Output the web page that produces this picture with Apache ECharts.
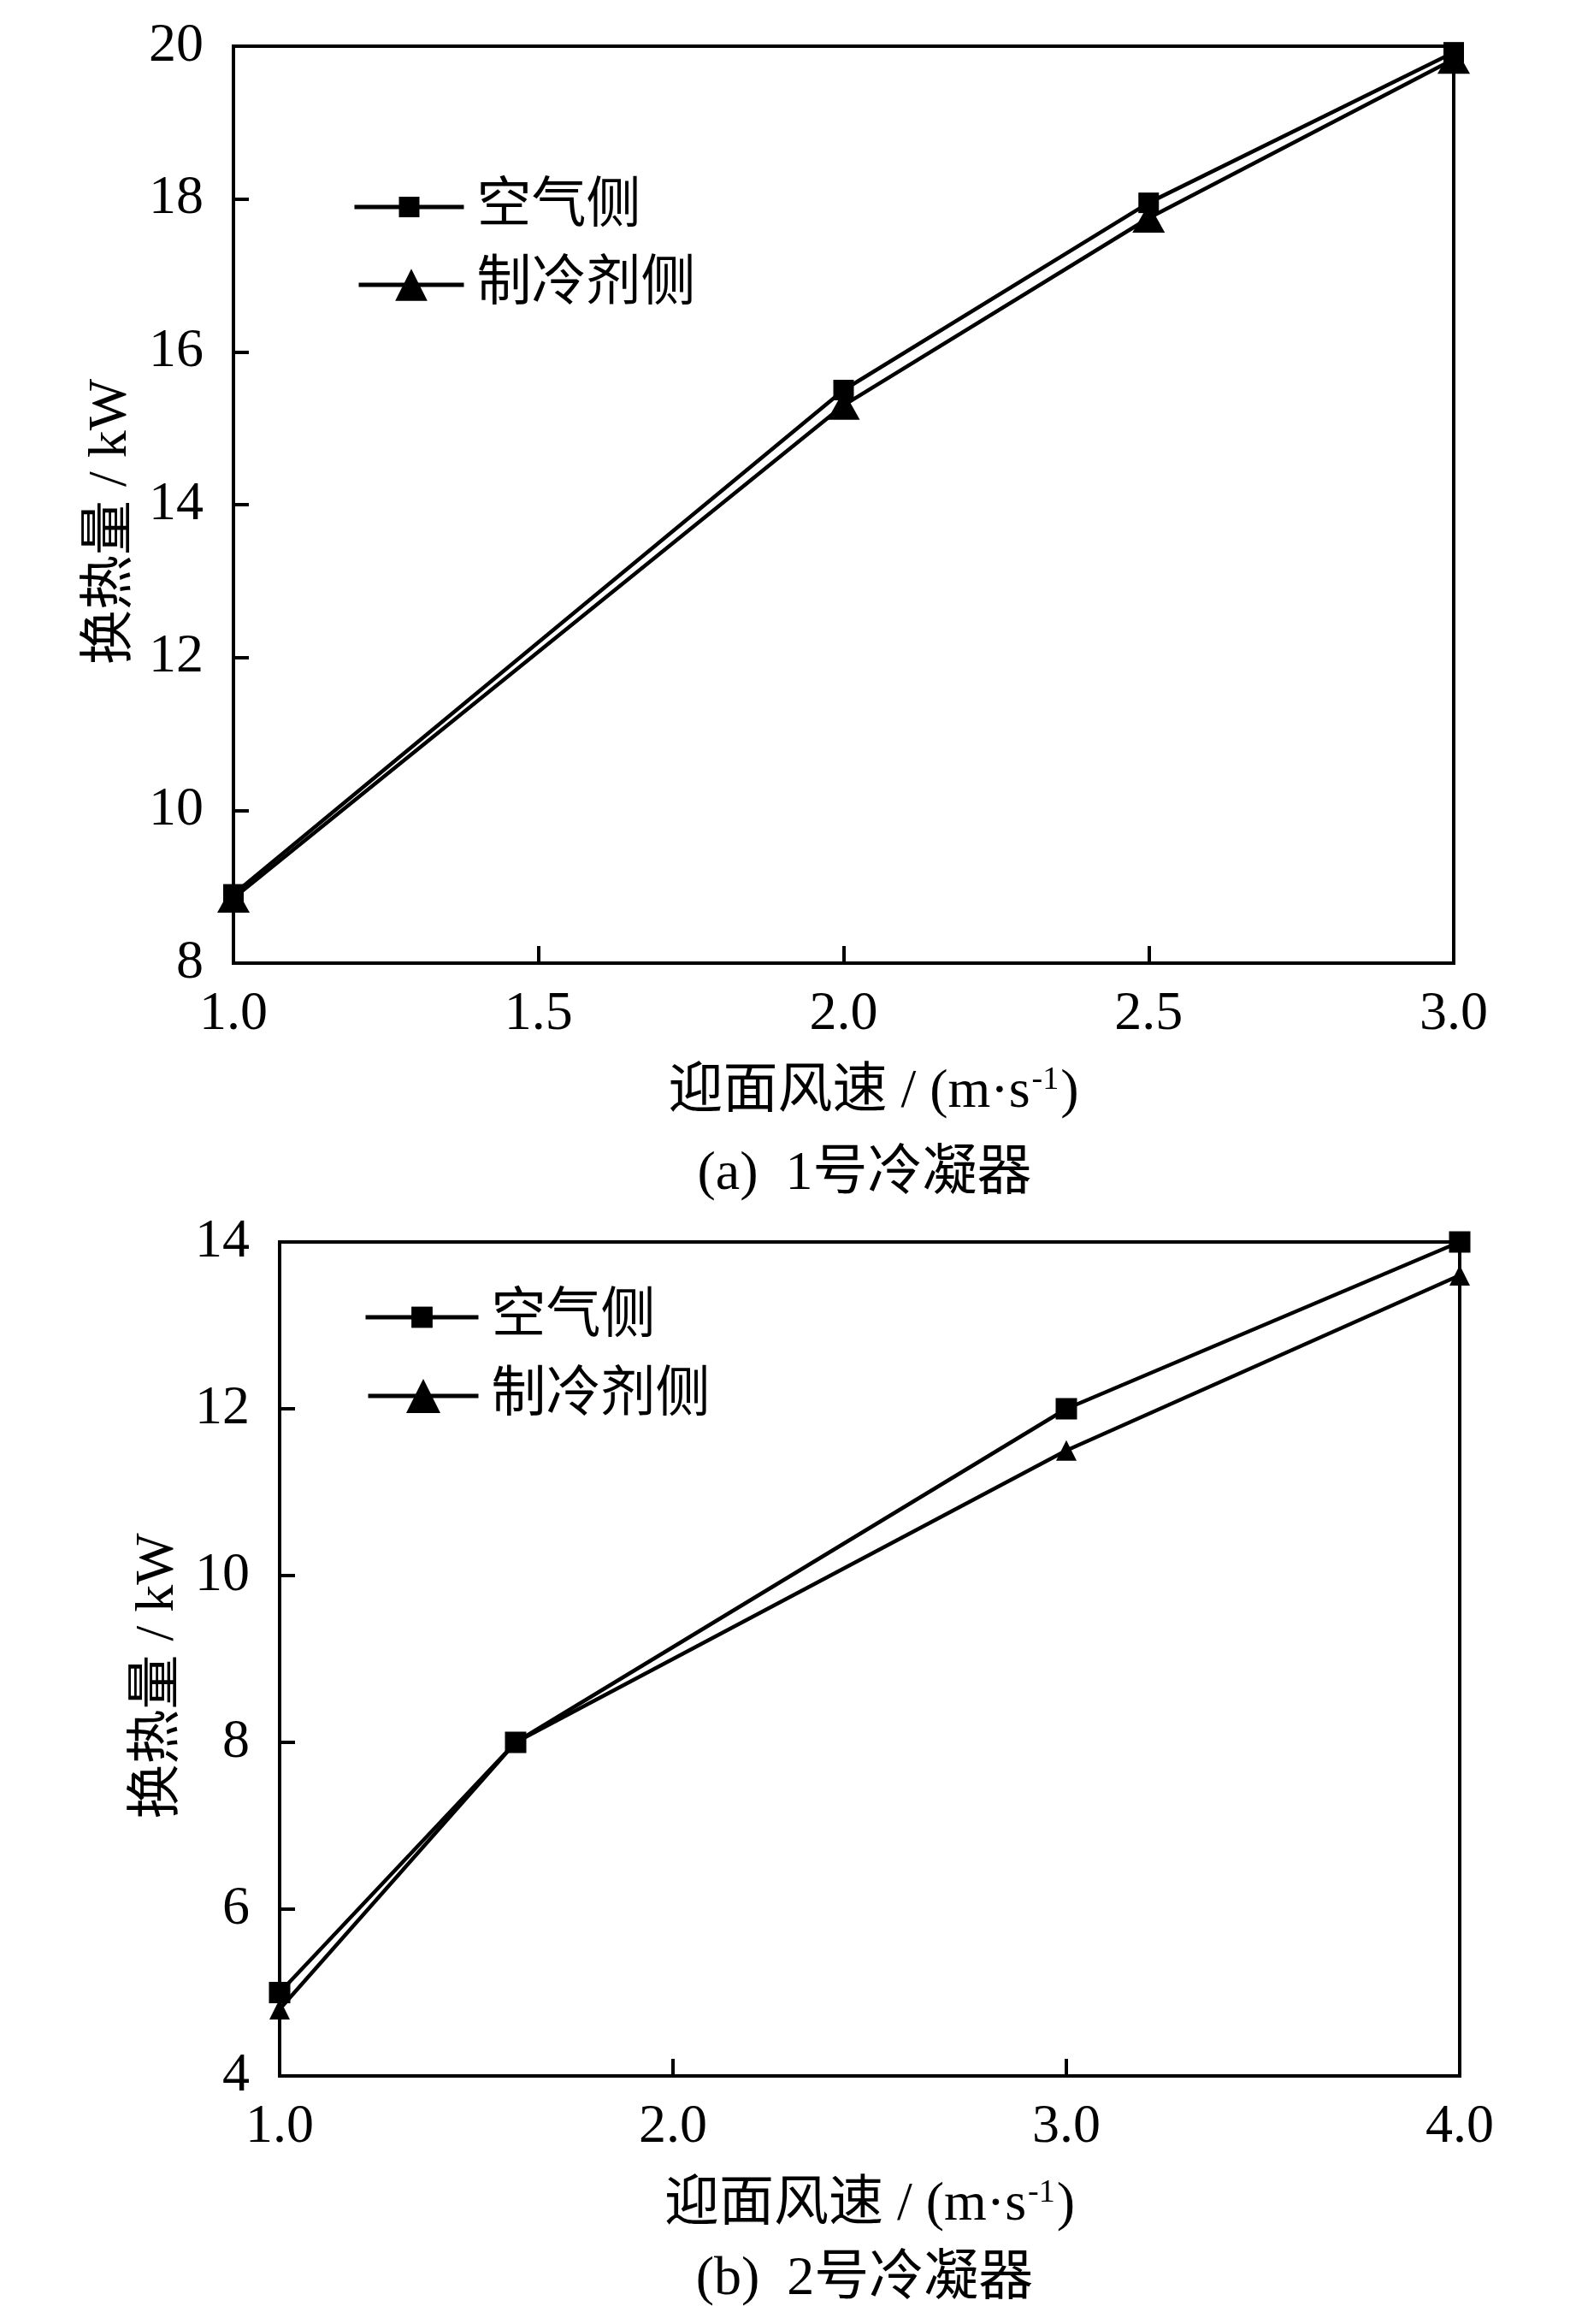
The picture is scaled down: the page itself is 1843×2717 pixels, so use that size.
<!DOCTYPE html>
<html>
<head>
<meta charset="utf-8">
<script src="https://cdn.jsdelivr.net/npm/echarts@6/dist/echarts.min.js"></script>
<style>
  html, body { margin: 0; padding: 0; background: #fff; }
  #main { width: 1843px; height: 2717px; }
</style>
</head>
<body>
<div id="main"></div>
<script>
// (a) 1号冷凝器
var speedA = [1.0, 2.0, 2.5, 3.0];
var airA = [8.9, 15.5, 17.95, 19.92];
var refA = [8.85, 15.3, 17.75, 19.83];
// (b) 2号冷凝器
var speedB = [1.0, 1.6, 3.0, 4.0];
var airB = [5.0, 8.0, 12.0, 14.0];
var refB = [4.8, 8.0, 11.5, 13.6];

var seriesNames = ['空气侧', '制冷剂侧'];
var captions = ['(a)  1号冷凝器', '(b)  2号冷凝器'];
var yName = '换热量 / kW';

var FONT = '"Liberation Serif", "Times New Roman", "Noto Sans CJK SC", serif';
var FS = 64;

function pairs(xs, ys) {
	return xs.map(function (x, i) { return [x, ys[i]]; });
}

function xAxisCfg(idx, min, max, step, padLeft) {
	return {
		type: 'value', gridIndex: idx, min: min, max: max, interval: step,
		name: '{t|迎面风速 / (m·s}{s|-1}{t|)}',
		nameLocation: 'middle', nameGap: 118,
		nameTextStyle: {
			padding: [0, 0, 0, padLeft],
			rich: {
				t: { fontSize: FS, fontFamily: FONT, color: '#000' },
				s: { fontSize: 38, fontFamily: FONT, color: '#000', verticalAlign: 'top', padding: [0, 2, 28, 2] }
			}
		},
		axisLine: { onZero: false, lineStyle: { color: '#000', width: 4 } },
		axisTick: { inside: true, length: 20, lineStyle: { color: '#000', width: 4 } },
		axisLabel: {
			margin: 28, color: '#000', fontSize: FS, fontFamily: FONT,
			formatter: function (v) { return v.toFixed(1); }
		},
		splitLine: { show: false }
	};
}

function yAxisCfg(idx, min, max, step, gap) {
	return {
		type: 'value', gridIndex: idx, min: min, max: max, interval: step,
		name: yName, nameLocation: 'middle', nameGap: gap,
		nameTextStyle: { color: '#000', fontSize: FS, fontFamily: FONT, padding: [0, 40, 0, 0] },
		axisLine: { onZero: false, lineStyle: { color: '#000', width: 4 } },
		axisTick: { inside: true, length: 18, lineStyle: { color: '#000', width: 4 } },
		axisLabel: { margin: 35, color: '#000', fontSize: FS, fontFamily: FONT },
		splitLine: { show: false }
	};
}

function lineSeries(name, idx, data, symbol, size) {
	return {
		name: name, type: 'line', xAxisIndex: idx, yAxisIndex: idx,
		data: data, symbol: symbol, symbolSize: size,
		lineStyle: { color: '#000', width: 4.5 },
		itemStyle: { color: '#000' },
		z: 3
	};
}

function legendCfg(name, left, top, w, h) {
	return {
		data: [name], left: left, top: top, orient: 'vertical',
		itemWidth: w, itemHeight: h, selectedMode: false,
		lineStyle: { color: '#000', width: 5 },
		itemStyle: { color: '#000' },
		textStyle: { color: '#000', fontSize: FS, fontFamily: FONT, padding: [0, 0, 0, 10] }
	};
}

var chart = echarts.init(document.getElementById('main'), null, { renderer: 'canvas' });
var option = {
	backgroundColor: '#fff',
	animation: false,
	grid: [
		{ left: 273, top: 54, width: 1427, height: 1072, show: true, borderColor: '#000', borderWidth: 4, backgroundColor: 'transparent' },
		{ left: 327, top: 1452, width: 1380, height: 975, show: true, borderColor: '#000', borderWidth: 4, backgroundColor: 'transparent' }
	],
	title: [
		{ text: captions[0], left: 1006, top: 1336, textAlign: 'center',
		  textStyle: { color: '#000', fontSize: FS, fontWeight: 'normal', fontFamily: FONT } },
		{ text: captions[1], left: 1006, top: 2628, textAlign: 'center',
		  textStyle: { color: '#000', fontSize: FS, fontWeight: 'normal', fontFamily: FONT } }
	],
	legend: [
		legendCfg(seriesNames[0], 407, 205, 128, 30),
		legendCfg(seriesNames[1], 412, 296, 123, 47),
		legendCfg(seriesNames[0], 420, 1503, 132, 31),
		legendCfg(seriesNames[1], 423, 1595, 129, 50)
	],
	xAxis: [
		xAxisCfg(0, 1, 3, 0.5, 70),
		xAxisCfg(1, 1, 4, 1, 0)
	],
	yAxis: [
		yAxisCfg(0, 8, 20, 2, 111),
		yAxisCfg(1, 4, 14, 2, 99)
	],
	series: [
		lineSeries(seriesNames[0], 0, pairs(speedA, airA), 'rect', 24),
		lineSeries(seriesNames[1], 0, pairs(speedA, refA), 'triangle', [38, 34]),
		lineSeries(seriesNames[0], 1, pairs(speedB, airB), 'rect', 25),
		lineSeries(seriesNames[1], 1, pairs(speedB, refB), 'triangle', 24)
	]
};
chart.setOption(option);
window.addEventListener('resize', function () {
	chart.resize();
});
</script>
</body>
</html>
